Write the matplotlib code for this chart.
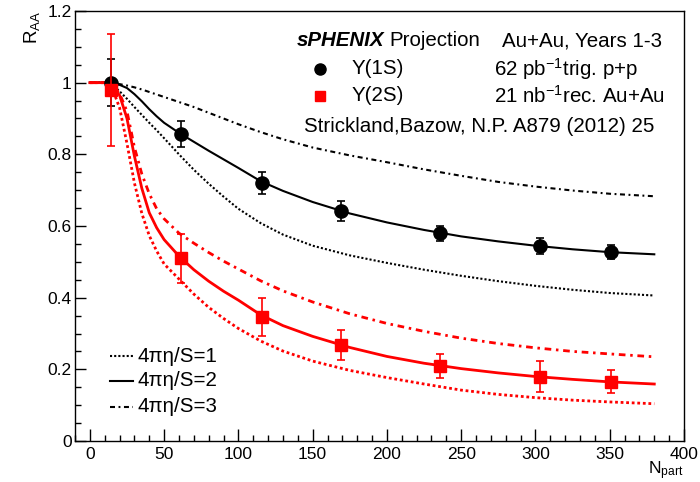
import numpy as np
import matplotlib
matplotlib.use('Agg')
from matplotlib import pyplot as plt
from matplotlib.ticker import MultipleLocator, FuncFormatter

plt.rcParams['font.family'] = ['Liberation Sans', 'DejaVu Sans']
plt.rcParams['mathtext.fontset'] = 'custom'
plt.rcParams['mathtext.rm'] = 'Liberation Sans'
plt.rcParams['mathtext.it'] = 'Liberation Sans:italic'

# projected points
npart = [14.5, 61.5, 116, 169, 235.5, 303, 351]
raa_1s = [1.0, 0.857, 0.72, 0.642, 0.58, 0.545, 0.527]
err_1s = [0.066, 0.036, 0.032, 0.027, 0.021, 0.022, 0.02]
raa_2s = [0.979, 0.51, 0.345, 0.268, 0.21, 0.18, 0.166]
err_2s = [0.157, 0.068, 0.053, 0.041, 0.034, 0.042, 0.033]

# Strickland-Bazow model curves
npart_th = [0, 10, 15, 20, 25, 30, 35, 40, 45, 50, 60, 70, 80, 90, 100,
            115, 130, 150, 175, 200, 225, 250, 275, 300, 325, 350, 380]
ups1_eta1 = [1, 1, 0.995, 0.976, 0.955, 0.932, 0.91, 0.888, 0.867, 0.845,
             0.8, 0.757, 0.718, 0.682, 0.648, 0.608, 0.576, 0.545, 0.518,
             0.497, 0.478, 0.461, 0.446, 0.433, 0.422, 0.413, 0.406]
ups1_eta2 = [1, 1, 0.998, 0.994, 0.985, 0.968, 0.948, 0.926, 0.906, 0.888,
             0.86, 0.835, 0.81, 0.786, 0.762, 0.725, 0.698, 0.667, 0.635,
             0.61, 0.589, 0.571, 0.557, 0.545, 0.535, 0.527, 0.521]
ups1_eta3 = [1, 1, 0.998, 0.996, 0.992, 0.987, 0.981, 0.974, 0.967, 0.96,
             0.946, 0.932, 0.916, 0.9, 0.884, 0.862, 0.842, 0.819, 0.797,
             0.778, 0.758, 0.74, 0.723, 0.71, 0.699, 0.69, 0.683]
ups2_eta1 = [1, 1, 0.985, 0.93, 0.83, 0.72, 0.635, 0.573, 0.53, 0.494,
             0.452, 0.41, 0.373, 0.342, 0.314, 0.279, 0.251, 0.223, 0.197,
             0.177, 0.159, 0.142, 0.13, 0.121, 0.114, 0.109, 0.104]
ups2_eta2 = [1, 1, 0.99, 0.965, 0.9, 0.795, 0.705, 0.637, 0.595, 0.562,
             0.516, 0.478, 0.446, 0.418, 0.393, 0.352, 0.322, 0.292, 0.261,
             0.236, 0.217, 0.202, 0.19, 0.18, 0.172, 0.165, 0.159]
ups2_eta3 = [1, 1, 0.995, 0.97, 0.92, 0.82, 0.745, 0.69, 0.648, 0.62,
             0.58, 0.552, 0.526, 0.502, 0.48, 0.447, 0.419, 0.388, 0.355,
             0.328, 0.306, 0.287, 0.272, 0.26, 0.25, 0.243, 0.235]

DOT = (0, (1, 1))
DASHDOT = (0, (2.4, 1.7, 0.9, 1.7))
FS = 12.5
FS_LEG = 14.8


def main():
    fig = plt.figure(figsize=(7, 4.82), dpi=100)
    ax = fig.add_axes([75 / 700, 41 / 482, 609 / 700, 430 / 482])

    for ys, ls in [(ups1_eta1, DOT), (ups1_eta2, '-'), (ups1_eta3, DASHDOT)]:
        ax.plot(npart_th, ys, color='black', lw=1.5, linestyle=ls)
    for ys, ls in [(ups2_eta1, DOT), (ups2_eta2, '-'), (ups2_eta3, DASHDOT)]:
        ax.plot(npart_th, ys, color='red', lw=2, linestyle=ls)

    ax.errorbar(npart, raa_1s, yerr=err_1s, fmt='o', color='black',
                ms=9.5, elinewidth=1.2, capsize=3, capthick=1.2, zorder=5)
    ax.errorbar(npart, raa_2s, yerr=err_2s, fmt='s', color='red',
                ms=8.5, elinewidth=1.2, capsize=2.6, capthick=1.2, zorder=6)

    ax.set_xlim(-10, 400)
    ax.set_ylim(0, 1.2)
    ax.xaxis.set_major_locator(MultipleLocator(50))
    ax.xaxis.set_minor_locator(MultipleLocator(10))
    ax.yaxis.set_major_locator(MultipleLocator(0.2))
    ax.yaxis.set_minor_locator(MultipleLocator(0.05))
    ax.yaxis.set_major_formatter(FuncFormatter(lambda v, p: '%g' % round(v, 2)))
    ax.tick_params(which='both', direction='in', top=False, right=False,
                   labelsize=FS, width=1)
    ax.tick_params(axis='x', which='major', length=8.5, pad=4.5)
    ax.tick_params(axis='x', which='minor', length=4.5)
    ax.tick_params(axis='y', which='major', length=8, pad=2.5)
    ax.tick_params(axis='y', which='minor', length=4.5)
    for sp in ax.spines.values():
        sp.set_linewidth(1)

    ax.text(1.0, -0.042, r'N$_{\rm part}$', transform=ax.transAxes,
            fontsize=12.5, ha='right', va='top')
    ax.set_ylabel(r'R$_{\rm AA}$', fontsize=13.5, loc='top', labelpad=4)

    # header / legend block
    def fx(px):
        return (px - 75) / 609

    def fy(py):
        return (441 - py) / 430

    tr = ax.transAxes
    ax.text(fx(297), fy(41), 'sPHENIX', transform=tr, fontsize=FS_LEG,
            fontweight='bold', style='italic', va='center')
    ax.text(fx(389), fy(41), 'Projection', transform=tr, fontsize=FS_LEG,
            va='center')
    ax.text(fx(502), fy(41), 'Au+Au, Years 1-3', transform=tr,
            fontsize=FS_LEG, va='center')
    ax.plot([fx(320)], [fy(69)], 'o', color='black', ms=8, transform=tr)
    ax.plot([fx(320)], [fy(96)], 's', color='red', ms=7.5, transform=tr)
    ax.text(fx(352), fy(69), '\u03a5(1S)', transform=tr, fontsize=FS_LEG,
            va='center')
    ax.text(fx(352), fy(96), '\u03a5(2S)', transform=tr, fontsize=FS_LEG,
            va='center')
    ax.text(fx(494), fy(69), r'62 pb$^{-1}$trig. p+p', transform=tr,
            fontsize=FS_LEG, va='center')
    ax.text(fx(494), fy(96), r'21 nb$^{-1}$rec. Au+Au', transform=tr,
            fontsize=FS_LEG, va='center')
    ax.text(fx(304), fy(127), 'Strickland,Bazow, N.P. A879 (2012) 25',
            transform=tr, fontsize=FS_LEG, va='center')

    # viscosity legend
    for py, ls, lab in [(356, DOT, '4\u03c0\u03b7/S=1'),
                        (381, '-', '4\u03c0\u03b7/S=2'),
                        (407, DASHDOT, '4\u03c0\u03b7/S=3')]:
        ax.plot([fx(110), fx(133)], [fy(py), fy(py)], color='black', lw=1.5,
                linestyle=ls, transform=tr)
        ax.text(fx(138), fy(py), lab, transform=tr, fontsize=FS_LEG,
                va='center')

    fig.savefig('out.png', dpi=100)


if __name__ == '__main__':
    main()
